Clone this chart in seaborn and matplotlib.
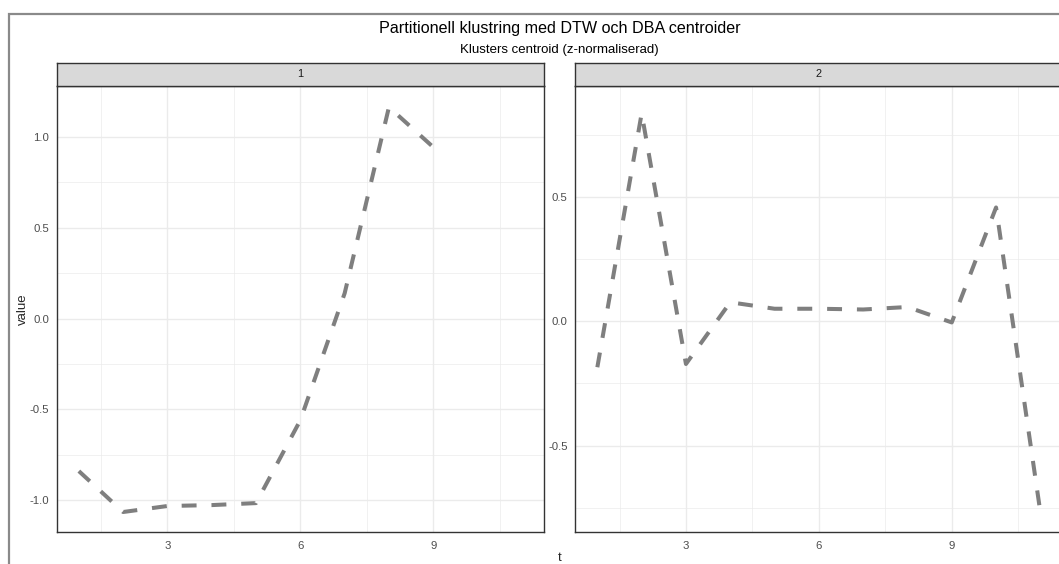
import matplotlib
matplotlib.use("Agg")
import matplotlib.pyplot as plt
import seaborn as sns
import pandas as pd
import numpy as np
from matplotlib.patches import Rectangle

# ---- data ----
t_cluster1 = [1, 2, 3, 4, 5, 6, 7, 8, 9]
v_cluster1 = [-0.839, -1.064, -1.031, -1.026, -1.015, -0.559, 0.139, 1.163, 0.943]
t_cluster2 = [1, 2, 3, 4, 5, 6, 7, 8, 9, 10, 11]
v_cluster2 = [-0.185, 0.835, -0.172, 0.076, 0.050, 0.050, 0.047, 0.057, -0.005, 0.457, -0.767]
panel_labels = ["1", "2"]
x_ticks = [3, 6, 9]
y_ticks1 = [-1.0, -0.5, 0.0, 0.5, 1.0]
y_ticks2 = [-0.5, 0.0, 0.5]
title = "Partitionell klustring med DTW och DBA centroider"
subtitle = "Klusters centroid (z-normaliserad)"

df = pd.concat([
    pd.DataFrame({"t": t_cluster1, "value": v_cluster1, "cl": "1"}),
    pd.DataFrame({"t": t_cluster2, "value": v_cluster2, "cl": "2"}),
], ignore_index=True)

sns.set_style("white")
plt.rcParams["font.family"] = ["Liberation Sans", "DejaVu Sans"]

W, H = 1059, 564
fig = plt.figure(figsize=(W / 100, H / 100), dpi=100)

def fx(px):
    return px / W

def fy(py):
    return 1 - py / H

panel_top, panel_bot = 85.5, 532
strip_top = 63
panel_w = 487.3
lefts = [56.7, 575.2]
ylims = [(-1.174, 1.282), (-0.847, 0.947)]
yticks = [y_ticks1, y_ticks2]
minor_y = [[-0.75, -0.25, 0.25, 0.75], [-0.75, -0.25, 0.25, 0.75]]

border_c = "#333333"
grid_c = "#EBEBEB"

for i, lab in enumerate(panel_labels):
    ax = fig.add_axes([fx(lefts[i]), fy(panel_bot), panel_w / W, (panel_bot - panel_top) / H])
    sub = df[df["cl"] == lab]
    sns.lineplot(data=sub, x="t", y="value", ax=ax, color="#7F7F7F",
                 linewidth=2.9, linestyle=(0, (3.7, 3.7)), errorbar=None,
                 zorder=3)
    ax.lines[-1].set_dash_capstyle("butt")
    ax.lines[-1].set_solid_joinstyle("round")
    ax.set_xlim(0.5, 11.5)
    ax.set_ylim(*ylims[i])
    ax.set_xticks(x_ticks)
    ax.set_xticks([1.5, 4.5, 7.5, 10.5], minor=True)
    ax.set_yticks(yticks[i])
    ax.set_yticks(minor_y[i], minor=True)
    ax.set_yticklabels([f"{v:.1f}" for v in yticks[i]])
    ax.grid(which="major", color=grid_c, linewidth=1.0, zorder=0)
    ax.grid(which="minor", color=grid_c, linewidth=0.5, zorder=0)
    ax.set_axisbelow(True)
    for s in ax.spines.values():
        s.set_color(border_c)
        s.set_linewidth(1.0)
    ax.tick_params(axis="both", which="major", length=3.2, width=0.8, color=border_c,
                   labelcolor="#4D4D4D", labelsize=8.2)
    ax.tick_params(axis="x", pad=3.4)
    ax.tick_params(axis="y", pad=2.2)
    ax.tick_params(which="minor", length=0)
    ax.set_xlabel("")
    ax.set_ylabel("")
    ax.set_facecolor("white")

    # strip
    sax = fig.add_axes([fx(lefts[i]), fy(panel_top), panel_w / W, (panel_top - strip_top) / H])
    sax.set_facecolor("#D9D9D9")
    sax.set_xticks([])
    sax.set_yticks([])
    for s in sax.spines.values():
        s.set_color(border_c)
        s.set_linewidth(1.0)
    sax.text(0.5, 0.5, lab, ha="center", va="center", fontsize=7.9,
             color="#1A1A1A", transform=sax.transAxes)

cx = fx((56.7 + 575.2 + panel_w) / 2)
fig.text(cx, fy(28), title, ha="center", va="center", fontsize=11.6, color="black")
fig.text(cx, fy(50), subtitle, ha="center", va="center", fontsize=9.5, color="black")
fig.text(fx(23), fy(309), "value", ha="center", va="center", rotation=90, fontsize=9.5)
fig.text(cx, fy(558), "t", ha="center", va="center", fontsize=9.5)

# outer frame (screenshot border)
fig.add_artist(Rectangle((fx(8.5), fy(600)), 1.2, fy(13.5) - fy(600),
                         transform=fig.transFigure, fill=False,
                         edgecolor="#8A8A8A", linewidth=1.6, clip_on=False))

fig.savefig("out.png", dpi=100)
